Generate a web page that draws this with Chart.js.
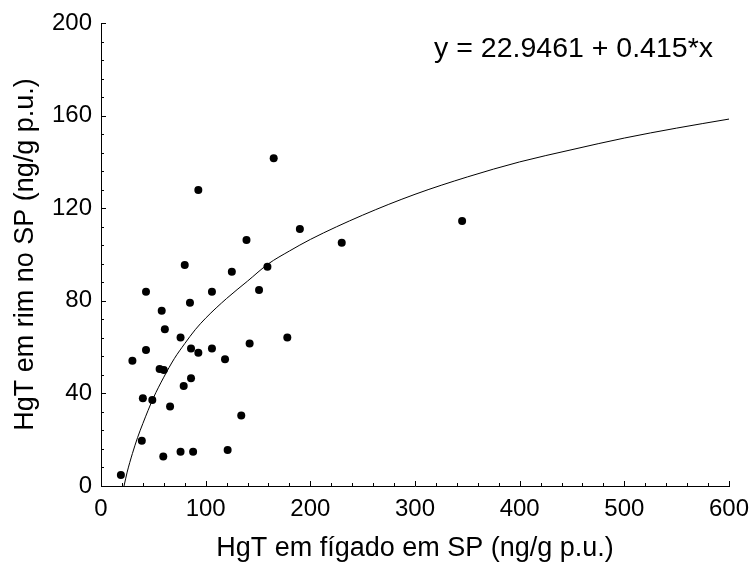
<!DOCTYPE html>
<html>
<head>
<meta charset="utf-8">
<script src="https://cdn.jsdelivr.net/npm/chart.js@4.4.1/dist/chart.umd.min.js"></script>
<style>
  html, body { margin: 0; padding: 0; background: #ffffff; }
  #wrap { width: 753px; height: 568px; }
</style>
</head>
<body>
<div id="wrap"><canvas id="c" width="753" height="568"></canvas></div>
<script>
// ---- data ----
const liverX = [165, 93, 190, 139, 80, 125, 159, 43, 106, 151, 85, 58,
                61, 76, 43, 30, 86, 93, 106, 118.5, 142, 178, 56, 60,
                86, 79, 40, 49, 66, 134, 39, 59.5, 76, 88, 121, 19, 230, 345];
const kidneyY = [141.6, 127.9, 111, 106.3, 95.5, 92.6, 94.7, 83.9, 83.9, 84.7, 79.2, 75.7,
                 67.7, 64.2, 58.7, 54.1, 59.4, 57.6, 59.4, 54.7, 61.6, 64.2, 50.5, 50.1,
                 46.5, 43.2, 37.9, 37.2, 34.3, 30.4, 19.6, 12.7, 14.8, 14.8, 15.6, 4.8, 105.1, 114.5];
// fitted curve
const curveX = [22, 25, 30, 35, 40, 50, 60, 70, 80, 90, 100, 120, 140, 160, 180, 200,
                250, 300, 350, 400, 450, 500, 550, 600];
const curveY = [0, 6, 14, 21, 27, 38, 47, 55, 61.5, 67.5, 72.5, 81, 88.5, 96, 101.5, 106.5,
                117, 126, 133.5, 140, 145.3, 150.3, 154.6, 158.5];
const xTicks = [0, 100, 200, 300, 400, 500, 600];
const yTicks = [0, 40, 80, 120, 160, 200];
const xTitle = 'HgT em fígado em SP (ng/g p.u.)';
const yTitle = 'HgT em rim no SP (ng/g p.u.)';
const equation = 'y = 22.9461 + 0.415*x';

const FONT = "'Liberation Sans', Arial, sans-serif";

const pts = liverX.map((x, i) => ({ x: x, y: kidneyY[i] }));
const curve = curveX.map((x, i) => ({ x: x, y: curveY[i] }));

const tickPlugin = {
  id: 'inTicks',
  afterDatasetsDraw(chart) {
    const ctx = chart.ctx;
    const xs = chart.scales.x, ys = chart.scales.y;
    const a = chart.chartArea;
    ctx.save();
    ctx.strokeStyle = '#000';
    ctx.lineWidth = 1;
    ctx.beginPath();
    for (let v = 0; v <= 600; v += 20) {
      const px = Math.round(xs.getPixelForValue(v)) + 0.5;
      const len = (v % 100 === 0) ? 5 : 3;
      ctx.moveTo(px, a.bottom);
      ctx.lineTo(px, a.bottom - len);
    }
    for (let v = 0; v <= 200; v += 8) {
      const py = Math.round(ys.getPixelForValue(v)) + 0.5;
      const len = (v % 40 === 0) ? 5 : 3;
      ctx.moveTo(a.left, py);
      ctx.lineTo(a.left + len, py);
    }
    ctx.stroke();
    // equation label
    ctx.fillStyle = '#000';
    ctx.font = '28.5px ' + FONT;
    ctx.textAlign = 'right';
    ctx.textBaseline = 'middle';
    ctx.fillText(equation, 713, 49);
    ctx.restore();
  }
};

new Chart(document.getElementById('c'), {
  type: 'scatter',
  data: {
    datasets: [
      {
        label: 'curve',
        data: curve,
        showLine: true,
        borderColor: '#000',
        borderWidth: 1,
        pointRadius: 0,
        cubicInterpolationMode: 'monotone',
        fill: false,
        order: 2
      },
      {
        label: 'pontos',
        data: pts,
        showLine: false,
        pointRadius: 4,
        pointBackgroundColor: '#000',
        pointBorderColor: '#000',
        pointBorderWidth: 0,
        order: 1
      }
    ]
  },
  options: {
    responsive: false,
    animation: false,
    devicePixelRatio: 1,
    layout: { padding: { top: 23, right: 24, left: 0, bottom: 0 } },
    plugins: {
      legend: { display: false },
      tooltip: { enabled: false }
    },
    scales: {
      x: {
        type: 'linear',
        min: 0, max: 600,
        afterFit(s) { s.height = 82; s.paddingLeft = 0; s.paddingRight = 0; },
        afterBuildTicks(s) { s.ticks = xTicks.map(v => ({ value: v })); },
        grid: { display: false, drawTicks: false },
        border: { display: true, color: '#000', width: 1 },
        ticks: {
          color: '#000',
          font: { family: FONT, size: 24 },
          padding: 9,
          maxRotation: 0,
          autoSkip: false
        },
        title: {
          display: true,
          text: xTitle,
          color: '#000',
          font: { family: FONT, size: 27 },
          padding: { top: 0, bottom: 3 }
        }
      },
      y: {
        type: 'linear',
        min: 0, max: 200,
        afterFit(s) { s.width = 101; s.paddingTop = 0; s.paddingBottom = 0; },
        afterBuildTicks(s) { s.ticks = yTicks.map(v => ({ value: v })); },
        grid: { display: false, drawTicks: false },
        border: { display: true, color: '#000', width: 1 },
        ticks: {
          color: '#000',
          font: { family: FONT, size: 24 },
          padding: 9,
          autoSkip: false
        },
        title: {
          display: true,
          text: yTitle,
          color: '#000',
          font: { family: FONT, size: 27 },
          padding: { top: 9, bottom: 0 }
        }
      }
    }
  },
  plugins: [tickPlugin]
});
</script>
</body>
</html>
